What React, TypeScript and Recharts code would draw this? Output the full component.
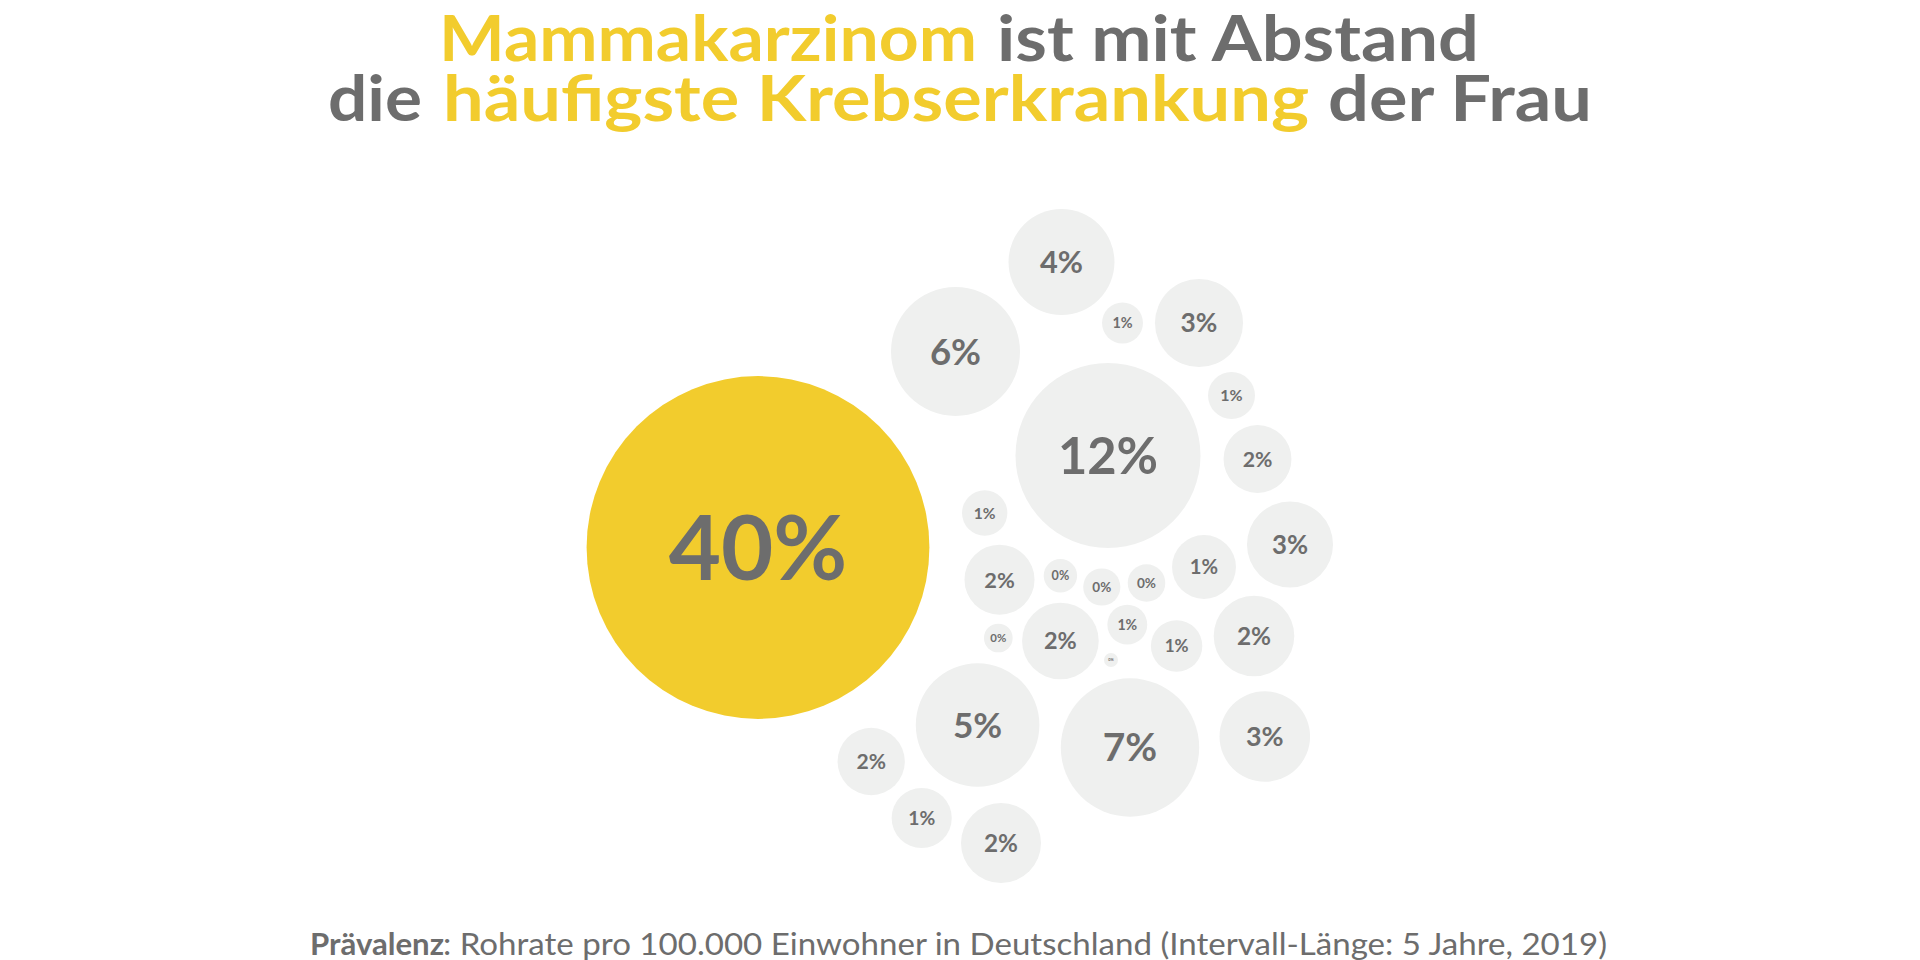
import { Scatter, ScatterChart, XAxis, YAxis, ZAxis } from "recharts";

// share of all prevalent cancer cases (%), bubble area ~ share
const shares = [
  40.0, 11.65, 5.66, 3.82, 0.57, 2.64, 0.75, 1.57, 2.52, 0.7, 1.67, 0.38, 0.47, 0.48,
  1.39, 2.21, 0.9, 0.54, 0.067, 2.0, 0.28, 5.2, 6.52, 2.79, 1.54, 1.23, 2.18,
];
// packed-bubble layout position of each site (layout units, origin = chart centre)
const layoutX = [
  -202, 148, -4.5, 101.5, 162.5, 239, 271.5, 297.5, 330, 24.7, 39.5, 100.4, 141.8, 186.5,
  244, 294, 216.6, 167.3, 151, 100.4, 38.3, 17.6, 170, 304.8, -88.8, -38.3, 41,
];
const layoutY = [
  -67.5, 24.5, 128.5, 218, 157, 157, 84.5, 21, -64.5, -33, -99.7, -95.7, -107, -103,
  -87, -156, -166, -144.7, -180, -161, -158, -245, -267.5, -256.5, -281.5, -338, -363,
];
const highlighted = [0]; // Mammakarzinom

const YELLOW = "#F2CC2D";
const GREY_TEXT = "#6D6D6D";
const BUBBLE = "#EFF0EF";
const FONT = "Lato, 'Noto Sans', sans-serif";

// title / footer pieces: text, colour, bold, left edge, width, baseline
const textPieces: [string, string, boolean, number, number, number][] = [
  ["Mammakarzinom", YELLOW, true, 439, 538, 61],
  ["ist mit Abstand", GREY_TEXT, true, 997, 482, 61],
  ["die", GREY_TEXT, true, 328, 94, 121],
  ["häufigste Krebserkrankung", YELLOW, true, 443, 866, 121],
  ["der Frau", GREY_TEXT, true, 1328, 264, 121],
  ["Prävalenz", GREY_TEXT, true, 310, 134, 955],
  [": Rohrate pro 100.000 Einwohner in Deutschland (Intervall-Länge: 5 Jahre, 2019)", GREY_TEXT, false, 443, 1164, 955],
];

const data = shares.map((share, i) => ({
  x: layoutX[i],
  y: layoutY[i],
  share,
  highlight: highlighted.includes(i),
}));

function Bubble(props: any) {
  const { cx, cy, width, payload } = props;
  const r = width / 2;
  const cap = r > 10 ? 0.36 * r + 3 : 0.4 * r;
  const fs = cap / 0.717;
  return (
    <g>
      <circle cx={cx} cy={cy} r={r} fill={payload.highlight ? YELLOW : BUBBLE} />
      <text
        x={cx}
        y={cy + cap / 2}
        textAnchor="middle"
        fontFamily={FONT}
        fontWeight={700}
        fontSize={fs}
        fill={GREY_TEXT}
      >
        {`${Math.round(payload.share)}%`}
      </text>
    </g>
  );
}

export default function App() {
  return (
    <div style={{ position: "absolute", left: 0, top: 0, width: 1920, height: 960, background: "#fff" }}>
      <ScatterChart width={1920} height={960} margin={{ top: 0, right: 0, bottom: 0, left: 0 }}>
        <XAxis type="number" dataKey="x" domain={[-960, 960]} allowDataOverflow hide />
        <YAxis type="number" dataKey="y" domain={[-480, 480]} allowDataOverflow hide />
        <ZAxis type="number" dataKey="share" domain={[0, 40]} range={[0, 92300]} />
        <Scatter data={data} shape={Bubble} isAnimationActive={false} />
      </ScatterChart>
      <svg
        width={1920}
        height={960}
        style={{ position: "absolute", left: 0, top: 0, pointerEvents: "none" }}
      >
        {textPieces.map(([t, color, bold, x, w, y]) => (
          <text
            key={t}
            x={x}
            y={y}
            fontFamily={FONT}
            fontWeight={bold ? 700 : 400}
            fontSize={y < 200 ? 64 : 30}
            fill={color}
            textLength={w}
            lengthAdjust="spacingAndGlyphs"
          >
            {t}
          </text>
        ))}
      </svg>
    </div>
  );
}
